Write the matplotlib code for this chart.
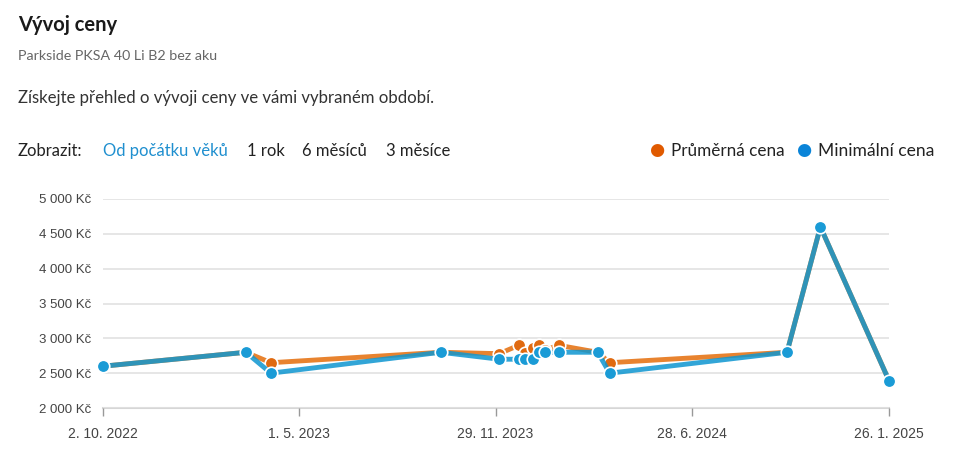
import matplotlib
matplotlib.use("Agg")
import matplotlib.pyplot as plt
from matplotlib.ticker import FuncFormatter
import pandas as pd

dates = pd.to_datetime([
    "2022-10-02", "2023-03-05", "2023-04-01", "2023-10-01", "2023-12-03",
    "2023-12-24", "2023-12-31", "2024-01-08", "2024-01-15", "2024-01-21",
    "2024-02-05", "2024-03-18", "2024-03-31", "2024-10-08", "2024-11-13",
    "2025-01-26",
])
avg_price = [2600, 2800, 2650, 2800, 2780, 2900, 2790, 2860, 2900, 2830,
             2900, 2800, 2650, 2800, 4600, 2390]
min_price = [2600, 2800, 2500, 2800, 2700, 2700, 2700, 2700, 2800, 2800,
             2800, 2800, 2500, 2800, 4600, 2390]
y_ticks = [2000, 2500, 3000, 3500, 4000, 4500, 5000]
x_ticks = pd.to_datetime(["2022-10-02", "2023-05-01", "2023-11-29", "2024-06-28", "2025-01-26"])
x_labels = ["2. 10. 2022", "1. 5. 2023", "29. 11. 2023", "28. 6. 2024", "26. 1. 2025"]
periods = ["Od počátku věků", "1 rok", "6 měsíců", "3 měsíce"]

ORANGE = "#e8832f"
BLUE = "#0e96d0"
UI_FONT = ["Lato", "DejaVu Sans"]

fig = plt.figure(figsize=(9.56, 4.70), dpi=100)
ax = fig.add_axes([0.1077, 0.1319, 0.8223, 0.4447])

ax.plot(dates, avg_price, color=ORANGE, lw=3.5, marker="o", ms=9,
        mfc="#e06a10", mec="white", mew=1.2, zorder=3, solid_joinstyle="round")
ax.plot(dates, min_price, color=BLUE, lw=3.5, alpha=0.85, zorder=4, solid_joinstyle="round")
ax.plot(dates, min_price, ls="none", marker="o", ms=9,
        mfc="#1a9bd6", mec="white", mew=1.2, zorder=5)

ax.set_ylim(2000, 5000)
ax.set_xlim(dates[0], dates[-1])
ax.set_yticks(y_ticks)
ax.yaxis.set_major_formatter(FuncFormatter(lambda v, p: f"{int(v):,} Kč".replace(",", " ")))
ax.set_xticks(x_ticks)
ax.set_xticklabels(x_labels)
ax.grid(axis="y", color="#e2e2e2", lw=1.2)
ax.set_axisbelow(True)
for s in ["top", "right", "left"]:
    ax.spines[s].set_visible(False)
ax.spines["bottom"].set_color("#d6d6d6")
ax.spines["bottom"].set_linewidth(1.5)
ax.spines["bottom"].set_zorder(0)
ax.tick_params(axis="y", length=0, pad=8.5, labelsize=9.5, labelcolor="#444444")
ax.tick_params(axis="x", length=6, width=1, color="#999999", pad=8,
               labelsize=10, labelcolor="#444444")
for lab in ax.get_xticklabels() + ax.get_yticklabels():
    lab.set_family(["Liberation Sans", "DejaVu Sans"])
for ln in ax.lines:
    ln.set_clip_on(False)

fig.text(18 / 956, 1 - 25 / 470, "Vývoj ceny", family=UI_FONT, fontsize=14.5,
         fontweight="bold", color="#1a1a1a", va="center")
fig.text(18 / 956, 1 - 56 / 470, "Parkside PKSA 40 Li B2 bez aku", family=UI_FONT,
         fontsize=10.3, color="#666666", va="center")
fig.text(18 / 956, 1 - 98 / 470, "Získejte přehled o vývoji ceny ve vámi vybraném období.",
         family=UI_FONT, fontsize=12.1, color="#333333", va="center")
fig.text(18 / 956, 1 - 151 / 470, "Zobrazit:", family=UI_FONT, fontsize=12,
         color="#222222", va="center")
period_x = [103, 247, 302, 386]
for i, (px, name) in enumerate(zip(period_x, periods)):
    fig.text(px / 956, 1 - 151 / 470, name, family=UI_FONT, fontsize=12,
             color="#1f8fcf" if i == 0 else "#222222", va="center")

fig.text(657 / 956, 1 - 150 / 470, "●", family=["DejaVu Sans"], fontsize=12.5,
         color="#e05a00", va="center", ha="center")
fig.text(671 / 956, 1 - 151 / 470, "Průměrná cena", family=UI_FONT, fontsize=12.3,
         color="#222222", va="center")
fig.text(804 / 956, 1 - 150 / 470, "●", family=["DejaVu Sans"], fontsize=12.5,
         color="#0a84d8", va="center", ha="center")
fig.text(818 / 956, 1 - 151 / 470, "Minimální cena", family=UI_FONT, fontsize=12.6,
         color="#222222", va="center")

fig.savefig("out.png", dpi=100)
